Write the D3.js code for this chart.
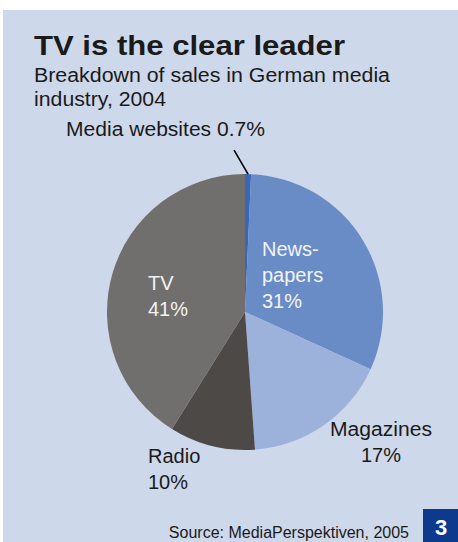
<!DOCTYPE html>
<html><head><meta charset="utf-8">
<script src="https://cdn.jsdelivr.net/npm/d3@7"></script>
<style>body{margin:0;background:#fff}svg{display:block}</style>
</head><body>
<script>
const categories = ["Media websites", "Newspapers", "Magazines", "Radio", "TV"];
const values = [0.7, 31, 17, 10, 41];
const colors = ["#3b66b5", "#6a8cc6", "#9db2da", "#4d4947", "#706f6e"];

const W = 458, H = 542;
const svg = d3.select("body").append("svg").attr("width", W).attr("height", H);
svg.append("rect").attr("x", 3).attr("y", 10).attr("width", W - 3).attr("height", H - 10).attr("fill", "#cdd8ea");

const font = "Liberation Sans, Arial, sans-serif";
svg.append("text").attr("x", 34).attr("y", 55).attr("font-family", font).attr("font-weight", "bold")
  .attr("font-size", 27).attr("fill", "#1a1a1a").attr("textLength", 311).attr("lengthAdjust", "spacingAndGlyphs")
  .text("TV is the clear leader");
const sub = ["Breakdown of sales in German media", "industry, 2004"];
const subLen = [356, 132];
sub.forEach((s, i) => svg.append("text").attr("x", 34).attr("y", 82 + i * 24).attr("font-family", font)
  .attr("font-size", 20).attr("fill", "#1a1a1a").attr("textLength", subLen[i]).attr("lengthAdjust", "spacingAndGlyphs").text(s));

const cx = 245, cy = 312, r = 138;
const pie = d3.pie().sort(null).value(d => d);
const arc = d3.arc().innerRadius(0).outerRadius(r);
const g = svg.append("g").attr("transform", `translate(${cx},${cy})`);
const arcs = pie(values);
g.selectAll("path").data(arcs).join("path").attr("d", arc).attr("fill", (d, i) => colors[i]);

// leader line for Media websites
const mid = (arcs[0].startAngle + arcs[0].endAngle) / 2;
const p1 = [Math.sin(mid) * r, -Math.cos(mid) * r];
g.append("line").attr("x1", p1[0]).attr("y1", p1[1]).attr("x2", p1[0] - 14).attr("y2", p1[1] - 24)
  .attr("stroke", "#000").attr("stroke-width", 1.6);

const labels = [
  {lines: [categories[0] + " " + values[0] + "%"], x: 66, y: 136, fill: "#1a1a1a", anchor: "start", len: [199]},
  {lines: ["News-", "papers", values[1] + "%"], x: 262, y: 256, fill: "#f2f4f8", anchor: "start"},
  {lines: [categories[2], values[2] + "%"], x: 381, y: 436, fill: "#1a1a1a", anchor: "middle", len: [102]},
  {lines: [categories[3], values[3] + "%"], x: 148, y: 463, fill: "#1a1a1a", anchor: "start"},
  {lines: [categories[4], values[4] + "%"], x: 148, y: 290, fill: "#f2f2f2", anchor: "start"}
];
labels.forEach(l => {
  l.lines.forEach((s, i) => {
    const t = svg.append("text").attr("x", l.x).attr("y", l.y + i * 26)
      .attr("font-family", font).attr("font-size", 20).attr("fill", l.fill).attr("text-anchor", l.anchor).text(s);
    if (l.len && l.len[i]) t.attr("textLength", l.len[i]).attr("lengthAdjust", "spacingAndGlyphs");
  });
});

svg.append("text").attr("x", 409).attr("y", 538).attr("text-anchor", "end").attr("font-family", font)
  .attr("font-size", 16).attr("fill", "#1a1a1a").text("Source: MediaPerspektiven, 2005");
svg.append("rect").attr("x", 423).attr("y", 509).attr("width", 35).attr("height", 33).attr("fill", "#0d3a8c");
svg.append("text").attr("x", 441).attr("y", 535).attr("text-anchor", "middle").attr("font-family", font)
  .attr("font-weight", "bold").attr("font-size", 22).attr("fill", "#fff").text("3");
</script>
</body></html>
